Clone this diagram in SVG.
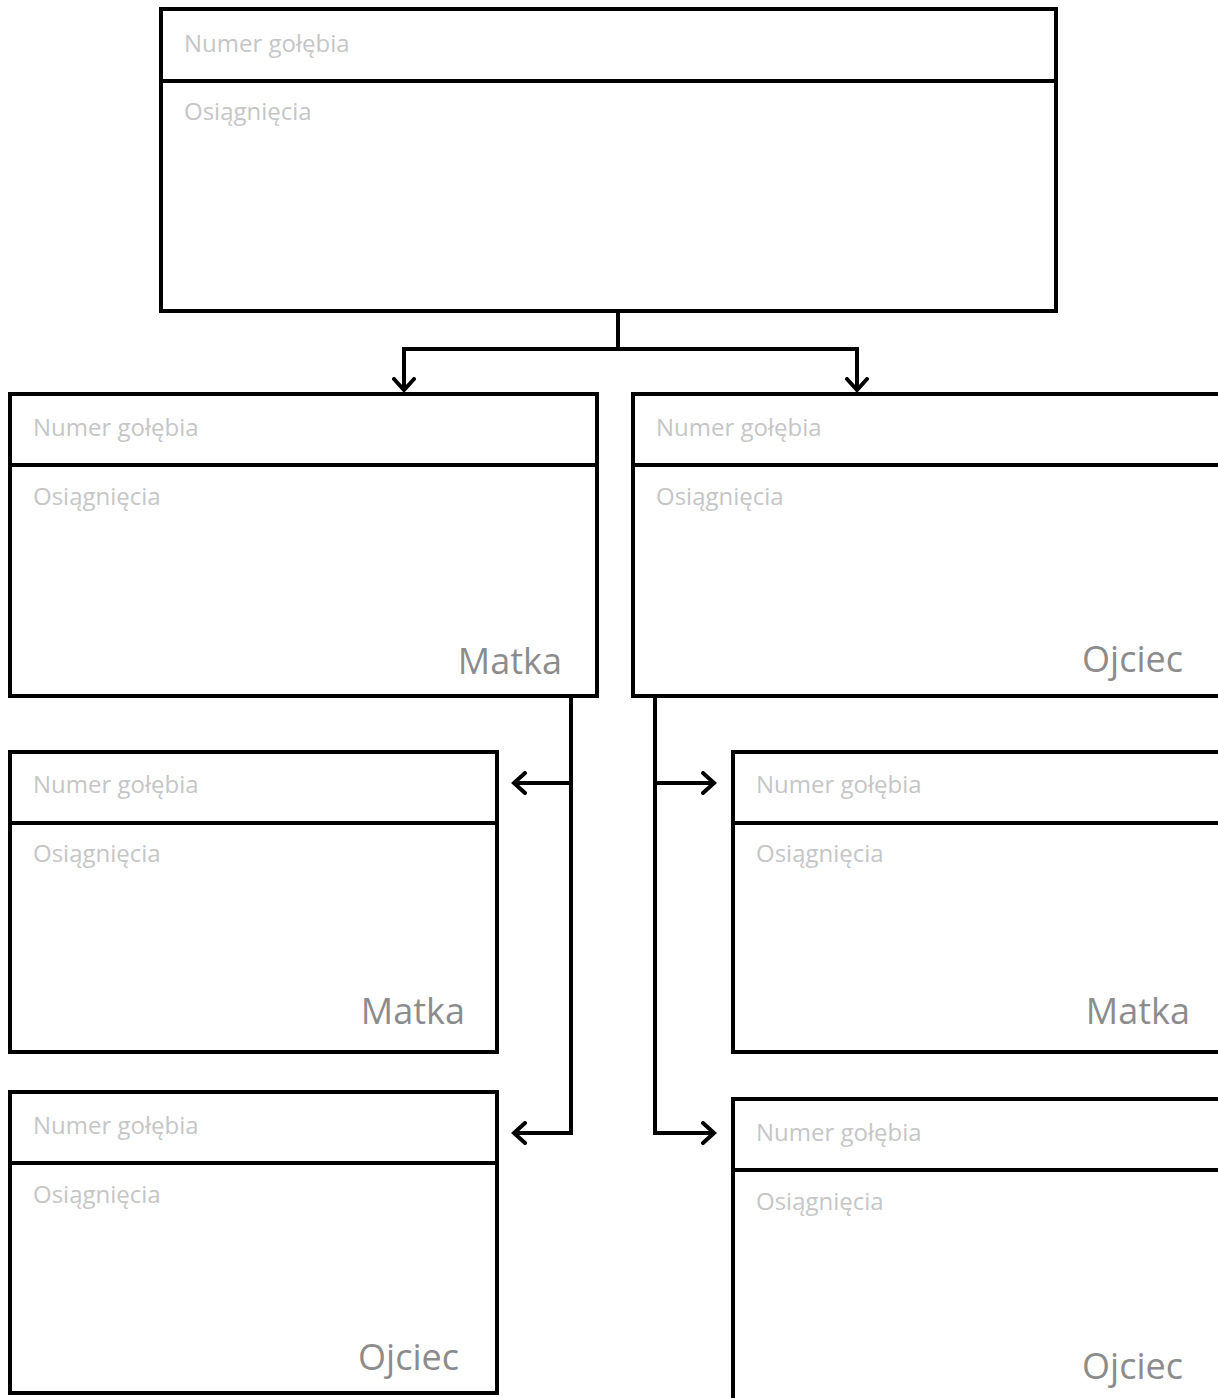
<svg xmlns="http://www.w3.org/2000/svg" width="1218" height="1398" viewBox="0 0 1218 1398">
<defs>
<marker id="arr" viewBox="0 0 16 24" markerWidth="16" markerHeight="24" refX="13" refY="12" orient="auto" markerUnits="userSpaceOnUse">
<path d="M2,2 L13,12 L2,22" fill="none" stroke="#000" stroke-width="4" stroke-linecap="round" stroke-linejoin="miter"/>
</marker>
</defs>
<style>
.box{fill:#fff;stroke:#000;stroke-width:4}
.div{stroke:#000;stroke-width:4}
.f{font-family:"Open Sans","Liberation Sans",sans-serif;font-size:24px;fill:#c6c6c6}
.lbl{font-family:"Open Sans","Liberation Sans",sans-serif;font-size:36px;fill:#8c8c8c;text-anchor:end}
.c{fill:none;stroke:#000;stroke-width:4;marker-end:url(#arr)}
</style>
<rect width="1218" height="1398" fill="#fff"/>
<g id="connectors">
<path class="c" d="M618,311 V349 H404 V390"/>
<path class="c" d="M618,349 H857 V390"/>
<path class="c" d="M571,696 V783 H514"/>
<path class="c" d="M571,783 V1133 H514"/>
<path class="c" d="M655,696 V783 H714"/>
<path class="c" d="M655,783 V1133 H714"/>
</g>
<g id="root">
<rect class="box" x="161" y="9" width="895" height="302"/>
<line class="div" x1="161" y1="81" x2="1056" y2="81"/>
<text class="f" x="184" y="52">Numer gołębia</text>
<text class="f" x="184" y="120">Osiągnięcia</text>
</g>
<g id="matka1">
<rect class="box" x="10" y="394" width="587" height="302"/>
<line class="div" x1="10" y1="465" x2="597" y2="465"/>
<text class="f" x="33" y="436">Numer gołębia</text>
<text class="f" x="33" y="505">Osiągnięcia</text>
<text class="lbl" x="562" y="674">Matka</text>
</g>
<g id="ojciec1">
<rect class="box" x="633" y="394" width="590" height="302"/>
<line class="div" x1="633" y1="465" x2="1223" y2="465"/>
<text class="f" x="656" y="436">Numer gołębia</text>
<text class="f" x="656" y="505">Osiągnięcia</text>
<text class="lbl" x="1183" y="672">Ojciec</text>
</g>
<g id="matka2">
<rect class="box" x="10" y="752" width="487" height="300"/>
<line class="div" x1="10" y1="823" x2="497" y2="823"/>
<text class="f" x="33" y="793">Numer gołębia</text>
<text class="f" x="33" y="862">Osiągnięcia</text>
<text class="lbl" x="465" y="1024">Matka</text>
</g>
<g id="ojciec2">
<rect class="box" x="10" y="1092" width="487" height="301"/>
<line class="div" x1="10" y1="1163" x2="497" y2="1163"/>
<text class="f" x="33" y="1134">Numer gołębia</text>
<text class="f" x="33" y="1203">Osiągnięcia</text>
<text class="lbl" x="459" y="1370">Ojciec</text>
</g>
<g id="matka3">
<rect class="box" x="733" y="752" width="490" height="300"/>
<line class="div" x1="733" y1="823" x2="1223" y2="823"/>
<text class="f" x="756" y="793">Numer gołębia</text>
<text class="f" x="756" y="862">Osiągnięcia</text>
<text class="lbl" x="1190" y="1024">Matka</text>
</g>
<g id="ojciec3">
<rect class="box" x="733" y="1099" width="490" height="310"/>
<line class="div" x1="733" y1="1170" x2="1223" y2="1170"/>
<text class="f" x="756" y="1141">Numer gołębia</text>
<text class="f" x="756" y="1210">Osiągnięcia</text>
<text class="lbl" x="1183" y="1379">Ojciec</text>
</g>
</svg>
